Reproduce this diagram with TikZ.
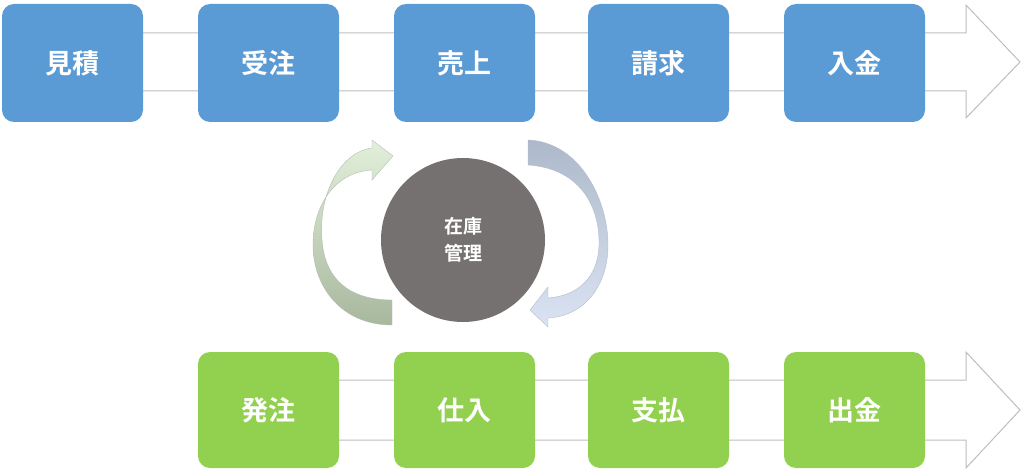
\documentclass[tikz,border=0pt]{standalone}
\usepackage{fontspec}
\newfontfamily\jp{Noto Sans CJK JP Bold}
\begin{document}
\begin{tikzpicture}[x=1pt,y=-1pt,
  blk/.style={rounded corners=12pt, minimum width=141pt, minimum height=118pt, text=white, font=\jp\fontsize{27}{30}\selectfont, inner sep=0pt},
  bl/.style={blk, fill=blue!45!cyan!60!black!0, fill={rgb,255:red,91;green,155;blue,213}},
  gr/.style={blk, fill={rgb,255:red,146;green,208;blue,80}, minimum height=116pt},
  band/.style={draw={rgb,255:red,190;green,190;blue,190}, fill=white, line width=1pt}]
\useasboundingbox (0,0) rectangle (1024,473);
% bands
\draw[band] (70,33) -- (966,33) -- (966,5) -- (1020,62) -- (966,118) -- (966,91) -- (70,91);
\draw[band] (270,380) -- (966,380) -- (966,352) -- (1020,410) -- (966,468) -- (966,440) -- (270,440);
\node[bl] (a) at (72.5,63) {見積};
\node[bl] (b) at (268.5,63) {受注};
\node[bl] (c) at (464.5,63) {売上};
\node[bl] (d) at (658.5,63) {請求};
\node[bl] (e) at (854.5,63) {入金};
\node[gr] (f) at (268.5,410) {発注};
\node[gr] (g) at (464.5,410) {仕入};
\node[gr] (h) at (658.5,410) {支払};
\node[gr] (i) at (854.5,410) {出金};
\node[circle, fill={rgb,255:red,118;green,113;blue,113}, minimum size=164pt, text=white, align=center, font=\jp\fontsize{19}{27}\selectfont] (z) at (463,240) {在庫\\管理};
% left cycle arrow
\shade[top color={rgb,255:red,226;green,239;blue,218}, bottom color={rgb,255:red,168;green,184;blue,158}, draw={rgb,255:red,180;green,190;blue,175}]
 (392,325) .. controls (340,325) and (313,285) .. (313,245) .. controls (313,205) and (335,172) .. (372,170)
 -- (372,180) -- (393,156) -- (372,140) -- (372,148) .. controls (340,152) and (318,195) .. (322,240)
 .. controls (325,280) and (350,300) .. (392,300) -- cycle;
% right cycle arrow
\shade[top color={rgb,255:red,173;green,185;blue,202}, bottom color={rgb,255:red,218;green,227;blue,243}, draw={rgb,255:red,180;green,188;blue,200}]
 (528,140) .. controls (580,142) and (608,200) .. (608,245) .. controls (608,285) and (585,316) .. (548,318)
 -- (548,327) -- (530,310) -- (548,287) -- (548,298) .. controls (585,295) and (600,270) .. (599,240)
 .. controls (598,200) and (575,168) .. (528,165) -- cycle;
\end{tikzpicture}
\end{document}
